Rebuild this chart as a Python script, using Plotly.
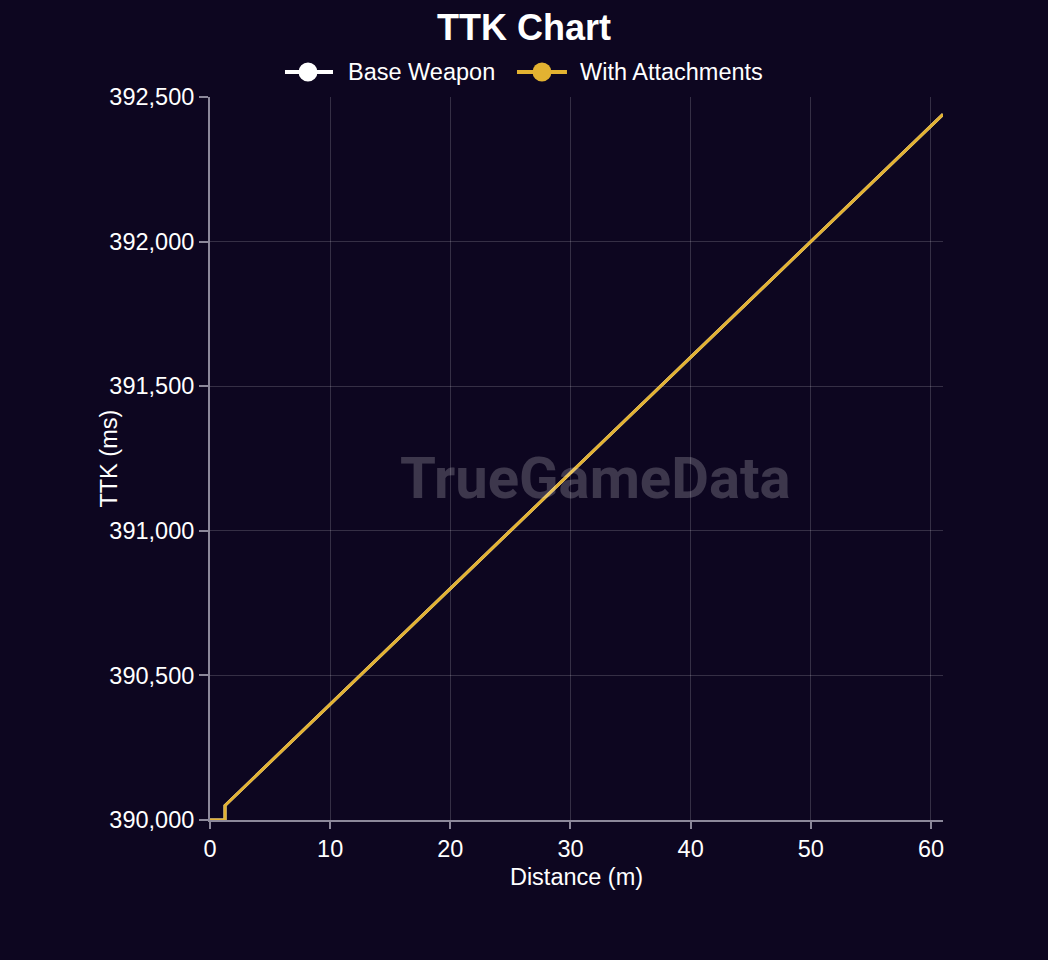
import plotly.graph_objects as go

# Data
distance_base = [0, 1.25, 1.25, 10, 20, 30, 40, 50, 61]
ttk_base = [390000, 390000, 390050, 390400, 390800, 391200, 391600, 392000, 392440]
distance_att = [0, 1.25, 1.25, 10, 20, 30, 40, 50, 61]
ttk_att = [390000, 390000, 390050, 390400, 390800, 391200, 391600, 392000, 392440]

series_names = ["Base Weapon", "With Attachments"]
series_colors = ["#FFFFFF", "#E3B231"]
x_ticks = [0, 10, 20, 30, 40, 50, 60]
y_ticks = [390000, 390500, 391000, 391500, 392000, 392500]

BG = "#0D0620"
FONT = "Liberation Sans, Arial, sans-serif"
AXIS_COL = "#8C889A"
GRID_COL = "rgba(255,255,255,0.17)"

fig = go.Figure()
for xs, ys, name, col in [(distance_base, ttk_base, series_names[0], series_colors[0]),
                          (distance_att, ttk_att, series_names[1], series_colors[1])]:
    fig.add_trace(go.Scatter(x=xs, y=ys, mode="lines", name=name,
                             line=dict(color=col, width=3), showlegend=False))

# Manual legend (line + big circle + label), positioned in paper coordinates
legend_y = 1.0346
legend_items = [
    # (line x0, line x1, circle x, text x)
    (0.1023, 0.1678, 0.1337, 0.1855),
    (0.4188, 0.4870, 0.4529, 0.5020),
]
shapes = []
for (lx0, lx1, cx, tx), name, col in zip(legend_items, series_names, series_colors):
    shapes.append(dict(type="line", xref="paper", yref="paper", x0=lx0, x1=lx1,
                       y0=legend_y, y1=legend_y, line=dict(color=col, width=4)))
    shapes.append(dict(type="circle", xref="paper", yref="paper",
                       xsizemode="pixel", ysizemode="pixel", xanchor=cx, yanchor=legend_y,
                       x0=-9.5, x1=9.5, y0=-9.5, y1=9.5,
                       fillcolor=col, line=dict(color=col, width=0)))
    fig.add_annotation(text=name, x=tx, y=legend_y, xref="paper", yref="paper",
                       xanchor="left", yanchor="middle", showarrow=False,
                       font=dict(size=23.5, color="#FFFFFF", family=FONT))

# Y axis title placed as in the reference (closer to the tick labels)
fig.add_annotation(text="TTK (ms)", x=-0.139, y=0.5, xref="paper", yref="paper",
                   textangle=-90, showarrow=False, xanchor="center", yanchor="middle",
                   font=dict(size=23.5, color="#FFFFFF", family=FONT))

fig.add_annotation(text="TrueGameData", x=0.5266, y=0.473, xref="paper", yref="paper",
                   showarrow=False, xanchor="center", yanchor="middle",
                   font=dict(family="Roboto, sans-serif", size=58,
                             color="rgba(255,255,255,0.2)", weight="bold"))

fig.update_layout(
    width=1048, height=960,
    paper_bgcolor=BG, plot_bgcolor=BG,
    font=dict(family=FONT, color="#FFFFFF", size=23.5),
    margin=dict(l=210, r=105, t=97, b=140),
    showlegend=False,
    shapes=shapes,
    title=dict(text="<b>TTK Chart</b>", x=0.5, xref="container", xanchor="center",
               y=0.9719, yref="container", yanchor="middle",
               font=dict(size=36, color="#FFFFFF", family=FONT)),
    xaxis=dict(range=[0, 61], tickvals=x_ticks,
               title=dict(text="Distance (m)", standoff=7, font=dict(size=23.5)),
               tickfont=dict(size=23.5),
               showgrid=True, gridcolor=GRID_COL, gridwidth=1,
               showline=True, linecolor=AXIS_COL, linewidth=2,
               ticks="outside", tickcolor=AXIS_COL, ticklen=7, tickwidth=2,
               zeroline=False),
    yaxis=dict(range=[390000, 392500], tickvals=y_ticks, tickformat=",d",
               tickfont=dict(size=23.5),
               showgrid=True, gridcolor=GRID_COL, gridwidth=1,
               showline=True, linecolor=AXIS_COL, linewidth=2,
               ticks="outside", tickcolor=AXIS_COL, ticklen=9, tickwidth=2,
               zeroline=False),
)

fig.write_html("out.html", config={"displayModeBar": False},
               post_script="document.body.style.margin='0';")
